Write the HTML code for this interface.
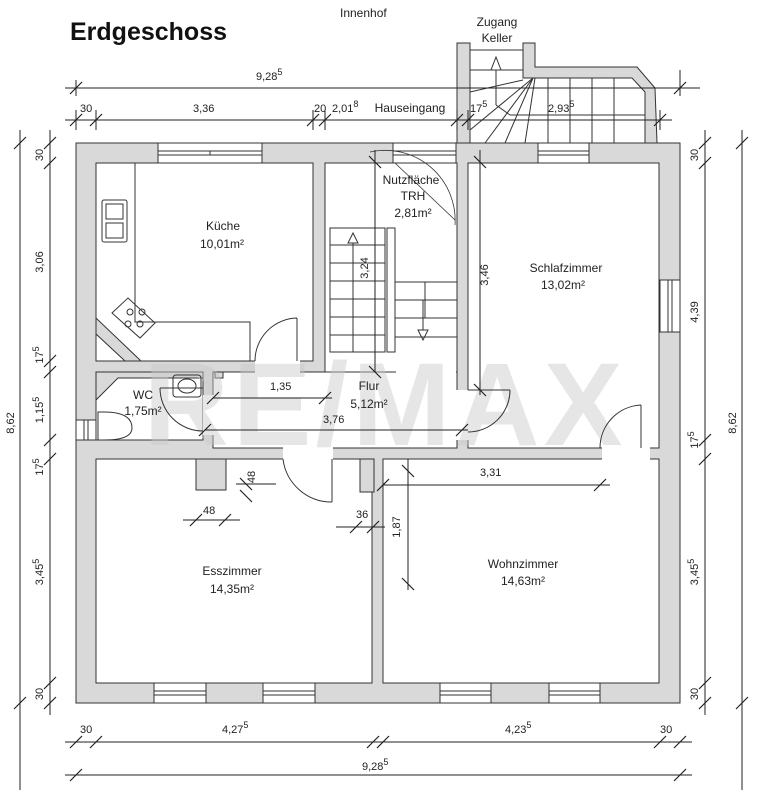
<!DOCTYPE html>
<html><head><meta charset="utf-8"><style>
html,body{margin:0;padding:0;background:#fff;}
svg{display:block;}
text{font-family:"Liberation Sans",sans-serif;fill:#222;}
</style></head><body>
<svg width="763" height="800" viewBox="0 0 763 800" xmlns="http://www.w3.org/2000/svg">

<!-- outer wall block -->
<g stroke="#333" stroke-width="1">
<rect x="76" y="143" width="604" height="560" fill="#d9d9d9"/>
<polygon points="457,43 470,43 470,143 457,143" fill="#d9d9d9"/>
<polygon points="523,43 535,43 535,67 637,67 655,88 657,143 645,143 645,92 632,78 523,78" fill="#d9d9d9"/>
<rect x="96" y="163" width="217" height="198" fill="#fff"/>
<rect x="325" y="163" width="132" height="209" fill="#fff"/>
<rect x="213" y="372" width="244" height="76" fill="#fff"/>
<rect x="96" y="372" width="107" height="68" fill="#fff"/>
<rect x="468" y="163" width="191" height="285" fill="#fff"/>
<rect x="96" y="459" width="276" height="224" fill="#fff"/>
<rect x="383" y="459" width="276" height="224" fill="#fff"/>
</g>
<!-- clean openings -->
<g fill="#fff">
<rect x="396" y="336" width="60" height="40"/>
<rect x="453" y="390" width="20" height="50"/>
<rect x="283" y="447" width="50" height="14"/>
<rect x="602" y="447" width="48" height="14"/>
<rect x="255" y="358" width="45" height="16"/>
<rect x="203" y="395" width="12" height="40"/>
</g>
<g fill="#d9d9d9" stroke="#333" stroke-width="1">
<rect x="196" y="459" width="30" height="31"/>
<rect x="360" y="459" width="14" height="33"/>
<polygon points="96,318 96,334 125,361 141,361"/>
<polygon points="96,440 96,400 118,378 203,378 203,372 96,372"/>
<rect x="215" y="372" width="8" height="6"/>
</g>
<!-- watermark -->
<text x="385" y="445" font-size="118" font-weight="bold" text-anchor="middle" style="fill:#c8c8c8" opacity="0.45" letter-spacing="4">RE/MAX</text>
<!-- windows -->
<g fill="#fff" stroke="#333" stroke-width="1">
<rect x="158" y="143" width="104" height="20"/><line x1="158" y1="151" x2="262" y2="151"/><line x1="158" y1="155" x2="262" y2="155"/><line x1="210" y1="151" x2="210" y2="155"/>
<rect x="393" y="143" width="63" height="20"/><line x1="393" y1="151" x2="456" y2="151"/><line x1="393" y1="155" x2="456" y2="155"/>
<rect x="538" y="143" width="51" height="20"/><line x1="538" y1="151" x2="589" y2="151"/><line x1="538" y1="155" x2="589" y2="155"/>
<rect x="154" y="683" width="52" height="20"/><line x1="154" y1="691" x2="206" y2="691"/><line x1="154" y1="695" x2="206" y2="695"/>
<rect x="263" y="683" width="52" height="20"/><line x1="263" y1="691" x2="315" y2="691"/><line x1="263" y1="695" x2="315" y2="695"/>
<rect x="440" y="683" width="51" height="20"/><line x1="440" y1="691" x2="491" y2="691"/><line x1="440" y1="695" x2="491" y2="695"/>
<rect x="549" y="683" width="51" height="20"/><line x1="549" y1="691" x2="600" y2="691"/><line x1="549" y1="695" x2="600" y2="695"/>
<rect x="660" y="280" width="20" height="52"/><line x1="668" y1="280" x2="668" y2="332"/><line x1="672" y1="280" x2="672" y2="332"/>
<rect x="76" y="420" width="20" height="20"/><line x1="84" y1="420" x2="84" y2="440"/><line x1="88" y1="420" x2="88" y2="440"/>
</g>
<!-- stairs -->
<g stroke="#333" stroke-width="1" fill="none">
<rect x="330" y="228" width="55" height="124"/>
<line x1="330" y1="245" x2="385" y2="245"/><line x1="330" y1="263" x2="385" y2="263"/><line x1="330" y1="281" x2="385" y2="281"/><line x1="330" y1="299" x2="385" y2="299"/><line x1="330" y1="317" x2="385" y2="317"/><line x1="330" y1="335" x2="385" y2="335"/>
<rect x="387" y="228" width="8" height="124"/>
<rect x="395" y="282" width="62" height="55"/>
<line x1="395" y1="300" x2="457" y2="300"/><line x1="395" y1="318" x2="457" y2="318"/><line x1="425" y1="282" x2="425" y2="318"/>
<polygon points="353,243 348,233 358,233" transform="rotate(180 353 238)"/>
<line x1="353" y1="243" x2="353" y2="352"/>
<polygon points="418,330 428,330 423,340"/>
<line x1="423" y1="300" x2="423" y2="330"/>
<line x1="470" y1="50" x2="523" y2="50"/><line x1="470" y1="70" x2="523" y2="70"/>
<line x1="470" y1="92" x2="523" y2="80"/>
<line x1="496" y1="70" x2="496" y2="105"/><polygon points="491,70 501,70 496,57"/>
<line x1="496" y1="105" x2="510" y2="115"/><line x1="510" y1="115" x2="645" y2="115"/>
<line x1="533" y1="78" x2="470" y2="130"/><line x1="533" y1="78" x2="485" y2="143"/><line x1="533" y1="78" x2="505" y2="143"/><line x1="535" y1="78" x2="525" y2="143"/>
<line x1="548" y1="78" x2="548" y2="143"/><line x1="570" y1="78" x2="570" y2="143"/><line x1="592" y1="78" x2="592" y2="143"/><line x1="614" y1="78" x2="614" y2="143"/>
<polyline points="135,163 135,322 250,322 250,361"/>
<rect x="102" y="200" width="25" height="42" rx="2"/>
<rect x="106" y="204" width="17" height="15"/><rect x="106" y="223" width="17" height="15"/>
<polygon points="112,313 128,298 155,323 140,338"/>
<circle cx="130" cy="312" r="3"/><circle cx="142" cy="312" r="3"/><circle cx="128" cy="324" r="3"/><circle cx="140" cy="324" r="3"/>
<rect x="173" y="375" width="28" height="22" rx="3"/><ellipse cx="187" cy="386" rx="9" ry="7"/>
<path d="M98 412 L104 412 Q132 412 132 428 Q132 440 104 440 L98 440 Z"/>
<path d="M297 318 L297 361 M297 318 A43 43 0 0 0 255 361"/>
<path d="M160 388 L203 388 M160 388 A43 43 0 0 0 203 431"/>
<path d="M468 390 L510 390 M510 390 A42 42 0 0 1 468 432"/>
<path d="M641 405 L641 448 M641 405 A43 43 0 0 0 600 448"/>
<path d="M332 459 L332 502 M283 459 A49 49 0 0 0 332 502"/>
<path d="M395 163 L455 220 M370 152 A70 70 0 0 1 455 225" stroke-width="0.8"/>
</g>
<!-- dimension lines -->
<g stroke="#222" stroke-width="1" fill="none">
<line x1="65" y1="88" x2="700" y2="88"/>
<line x1="65" y1="120" x2="672" y2="120"/>
<line x1="65" y1="742" x2="692" y2="742"/>
<line x1="65" y1="775" x2="692" y2="775"/>
<line x1="20" y1="130" x2="20" y2="790"/>
<line x1="50" y1="130" x2="50" y2="715"/>
<line x1="705" y1="130" x2="705" y2="715"/>
<line x1="742" y1="130" x2="742" y2="790"/>
<line x1="375" y1="150" x2="375" y2="372"/>
<line x1="480" y1="150" x2="480" y2="395"/>
<line x1="213" y1="398" x2="332" y2="398"/>
<line x1="205" y1="430" x2="468" y2="430"/>
<line x1="383" y1="485" x2="610" y2="485"/>
<line x1="408" y1="459" x2="408" y2="590"/>
<line x1="183" y1="520" x2="240" y2="520"/>
<line x1="236" y1="484" x2="276" y2="484"/>
<line x1="336" y1="527" x2="385" y2="527"/>
<line x1="76" y1="80" x2="76" y2="96"/><line x1="680" y1="70" x2="680" y2="96"/>
<line x1="76" y1="110" x2="76" y2="130"/><line x1="96" y1="110" x2="96" y2="130"/><line x1="313" y1="110" x2="313" y2="130"/><line x1="325" y1="110" x2="325" y2="130"/><line x1="457" y1="110" x2="457" y2="130"/><line x1="468" y1="110" x2="468" y2="130"/><line x1="660" y1="110" x2="660" y2="130"/>
</g>
<g stroke="#222" stroke-width="1.2">
<path d="M70 94 l12 -12 M674 94 l12 -12
M70 126 l12 -12 M90 126 l12 -12 M307 126 l12 -12 M319 126 l12 -12 M451 126 l12 -12 M462 126 l12 -12 M654 126 l12 -12
M14 149 l12 -12 M14 709 l12 -12 M736 149 l12 -12 M736 709 l12 -12
M44 149 l12 -12 M44 169 l12 -12 M44 367 l12 -12 M44 378 l12 -12 M44 446 l12 -12 M44 465 l12 -12 M44 689 l12 -12 M44 709 l12 -12
M699 149 l12 -12 M699 169 l12 -12 M699 446 l12 -12 M699 465 l12 -12 M699 689 l12 -12 M699 709 l12 -12
M70 748 l12 -12 M90 748 l12 -12 M367 748 l12 -12 M377 748 l12 -12 M654 748 l12 -12 M674 748 l12 -12
M70 781 l12 -12 M674 781 l12 -12
M369 156 l12 12 M369 366 l12 12 M474 156 l12 12 M474 384 l12 12
M207 404 l12 -12 M319 404 l12 -12 M199 436 l12 -12 M456 436 l12 -12
M377 491 l12 -12 M594 491 l12 -12 M402 465 l12 12 M402 578 l12 12
M190 526 l12 -12 M219 526 l12 -12 M240 478 l12 12 M240 490 l12 12 M350 533 l12 -12 M367 533 l12 -12"/>
</g>
<text x="70" y="40" font-size="25" font-weight="bold" style="fill:#111">Erdgeschoss</text>
<text x="340" y="17" font-size="12">Innenhof</text>
<text x="497" y="26" font-size="12" text-anchor="middle">Zugang</text>
<text x="497" y="42" font-size="12" text-anchor="middle">Keller</text>
<g font-size="11">
<text x="256" y="80">9,28<tspan dy="-5" font-size="9">5</tspan></text>
<text x="80" y="112">30</text>
<text x="193" y="112">3,36</text>
<text x="314" y="112">20</text>
<text x="332" y="112">2,01<tspan dy="-5" font-size="9">8</tspan></text>
<text x="470" y="112">17<tspan dy="-5" font-size="9">5</tspan></text>
<text x="548" y="112">2,93<tspan dy="-5" font-size="9">5</tspan></text>
<text x="222" y="733">4,27<tspan dy="-5" font-size="9">5</tspan></text>
<text x="505" y="733">4,23<tspan dy="-5" font-size="9">5</tspan></text>
<text x="80" y="733">30</text>
<text x="660" y="733">30</text>
<text x="362" y="770">9,28<tspan dy="-5" font-size="9">5</tspan></text>
<text x="270" y="390">1,35</text>
<text x="323" y="423">3,76</text>
<text x="480" y="476">3,31</text>
<text x="203" y="514">48</text>
<text x="356" y="518">36</text>
</g>
<g font-size="11" text-anchor="middle">
<text transform="translate(14,423) rotate(-90)">8,62</text>
<text transform="translate(736,423) rotate(-90)">8,62</text>
<text transform="translate(43,155) rotate(-90)">30</text>
<text transform="translate(43,262) rotate(-90)">3,06</text>
<text transform="translate(43,355) rotate(-90)">17<tspan font-size="9" dy="-4">5</tspan></text>
<text transform="translate(43,410) rotate(-90)">1,15<tspan font-size="9" dy="-4">5</tspan></text>
<text transform="translate(43,467) rotate(-90)">17<tspan font-size="9" dy="-4">5</tspan></text>
<text transform="translate(43,572) rotate(-90)">3,45<tspan font-size="9" dy="-4">5</tspan></text>
<text transform="translate(43,694) rotate(-90)">30</text>
<text transform="translate(698,155) rotate(-90)">30</text>
<text transform="translate(698,312) rotate(-90)">4,39</text>
<text transform="translate(698,440) rotate(-90)">17<tspan font-size="9" dy="-4">5</tspan></text>
<text transform="translate(698,572) rotate(-90)">3,45<tspan font-size="9" dy="-4">5</tspan></text>
<text transform="translate(698,694) rotate(-90)">30</text>
<text transform="translate(368,268) rotate(-90)">3,24</text>
<text transform="translate(488,275) rotate(-90)">3,46</text>
<text transform="translate(400,527) rotate(-90)">1,87</text>
<text transform="translate(255,477) rotate(-90)">48</text>
</g>
<g font-size="12" text-anchor="middle">
<text x="410" y="112">Hauseingang</text>
<text x="223" y="230">Küche</text>
<text x="222" y="248">10,01m²</text>
<text x="411" y="184">Nutzfläche</text>
<text x="413" y="200">TRH</text>
<text x="413" y="217">2,81m²</text>
<text x="566" y="272">Schlafzimmer</text>
<text x="563" y="289">13,02m²</text>
<text x="143" y="399">WC</text>
<text x="143" y="415">1,75m²</text>
<text x="369" y="390">Flur</text>
<text x="369" y="408">5,12m²</text>
<text x="232" y="575">Esszimmer</text>
<text x="232" y="593">14,35m²</text>
<text x="523" y="568">Wohnzimmer</text>
<text x="523" y="585">14,63m²</text>
</g>
</svg>
</body></html>
